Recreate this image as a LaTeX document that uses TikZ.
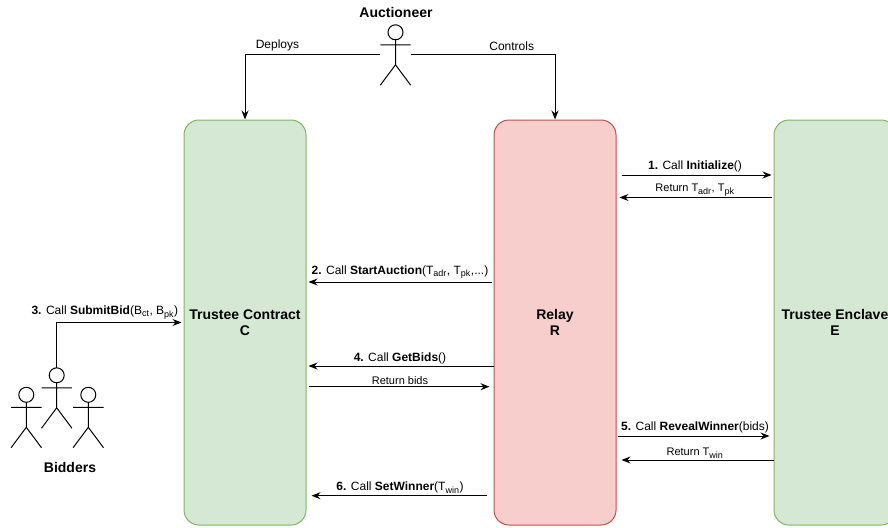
\documentclass[tikz,border=0pt]{standalone}
\usepackage{fontspec}
\setmainfont{Liberation Sans}
\usetikzlibrary{arrows.meta,calc}
\definecolor{gfill}{HTML}{D5E8D4}
\definecolor{gline}{HTML}{82B366}
\definecolor{rfill}{HTML}{F8CECC}
\definecolor{rline}{HTML}{B85450}
\newcommand\lowtxt[1]{\textsubscript{\fontsize{9}{9}\selectfont #1}}

\begin{document}
\begin{tikzpicture}[x=1pt,y=-1pt,
  box/.style={draw,rounded corners=15pt,line width=1pt,minimum width=122pt,minimum height=405pt,align=center,font=\fontsize{14}{16}\selectfont\bfseries},
  actor/.style={minimum width=30pt,minimum height=60pt,inner sep=0pt},
  msg/.style={-{Stealth[length=9pt,width=7pt,inset=3pt]},line width=1pt},
  lbl/.style={font=\fontsize{12}{14}\selectfont,inner sep=1pt},
  rlbl/.style={font=\fontsize{11}{13}\selectfont,inner sep=1pt},
  who/.style={font=\fontsize{14}{16}\selectfont\bfseries}]
\useasboundingbox (0,0) rectangle (888,527);

\node [box,fill=gfill,draw=gline] (con) at (245,322.5) {Trustee Contract\\C};
\node [box,fill=rfill,draw=rline] (rel) at (555,322.5) {Relay\\R};
\node [box,fill=gfill,draw=gline] (enc) at (835,322.5) {Trustee Enclave\\E};

\node [actor] (auc) at (395.5,55) {};
\node [actor] (b1) at (26.3,417.5) {};
\node [actor] (b2) at (56.7,398) {};
\node [actor] (b3) at (88.3,417.5) {};
\node [who] (tauc) at (396,12) {Auctioneer};
\node [who] (tbid) at (70,467) {Bidders};

\foreach \a in {auc,b1,b2,b3} {
  \draw [line width=1pt] ($(\a.north)+(0,7.5)$) circle [radius=7.5];
  \draw [line width=1pt] ($(\a.north)+(0,15)$) -- ($(\a.north)+(0,40)$) -- (\a.south west)
    ($(\a.north)+(0,40)$) -- (\a.south east)
    ($(\a.north west)+(0,20)$) -- ($(\a.north east)+(0,20)$);
}

\draw [msg] (auc.west) -| (con.north) node [lbl,pos=.38,above=3pt] {Deploys};
\draw [msg] (auc.east) -| (rel.north) node [lbl,pos=.35,above=3pt] {Controls};
\draw [msg,shorten >=2pt] (b2.north) |- (con.west)
  node [lbl,pos=.69,above=2pt] {\textbf{3.} Call \textbf{SubmitBid}(B\lowtxt{ct}, B\lowtxt{pk})};

\draw [msg,shorten <=5pt,shorten >=2pt] (rel.east |- 0,175) -- (enc.west |- 0,175)
  node [lbl,midway,above=2pt] {\textbf{1.} Call \textbf{Initialize}()};
\draw [msg,shorten <=2pt,shorten >=3pt] (enc.west |- 0,197.5) -- (rel.east |- 0,197.5)
  node [rlbl,midway,above=0pt] {Return T\lowtxt{adr}, T\lowtxt{pk}};
\draw [msg,shorten <=2pt,shorten >=2pt] (rel.west |- 0,282) -- (con.east |- 0,282)
  node [lbl,midway,above=2pt] {\textbf{2.} Call \textbf{StartAuction}(T\lowtxt{adr}, T\lowtxt{pk},...)};
\draw [msg,shorten >=2pt] (rel.west |- 0,366) -- (con.east |- 0,366)
  node [lbl,midway,above=1pt] {\textbf{4.} Call \textbf{GetBids}()};
\draw [msg,shorten <=2pt,shorten >=4pt] (con.east |- 0,386.7) -- (rel.west |- 0,386.7)
  node [rlbl,midway,above=1pt] {Return bids};
\draw [msg,shorten <=1pt,shorten >=4pt] (rel.east |- 0,436) -- (enc.west |- 0,436)
  node [lbl,midway,above=2pt] {\textbf{5.} Call \textbf{RevealWinner}(bids)};
\draw [msg,shorten >=5pt] (enc.west |- 0,460) -- (rel.east |- 0,460)
  node [rlbl,midway,above=0pt] {Return T\lowtxt{win}};
\draw [msg,shorten <=7pt,shorten >=5pt] (rel.west |- 0,495.7) -- (con.east |- 0,495.7)
  node [lbl,midway,above=1pt] {\textbf{6.} Call \textbf{SetWinner}(T\lowtxt{win})};
\end{tikzpicture}
\end{document}
